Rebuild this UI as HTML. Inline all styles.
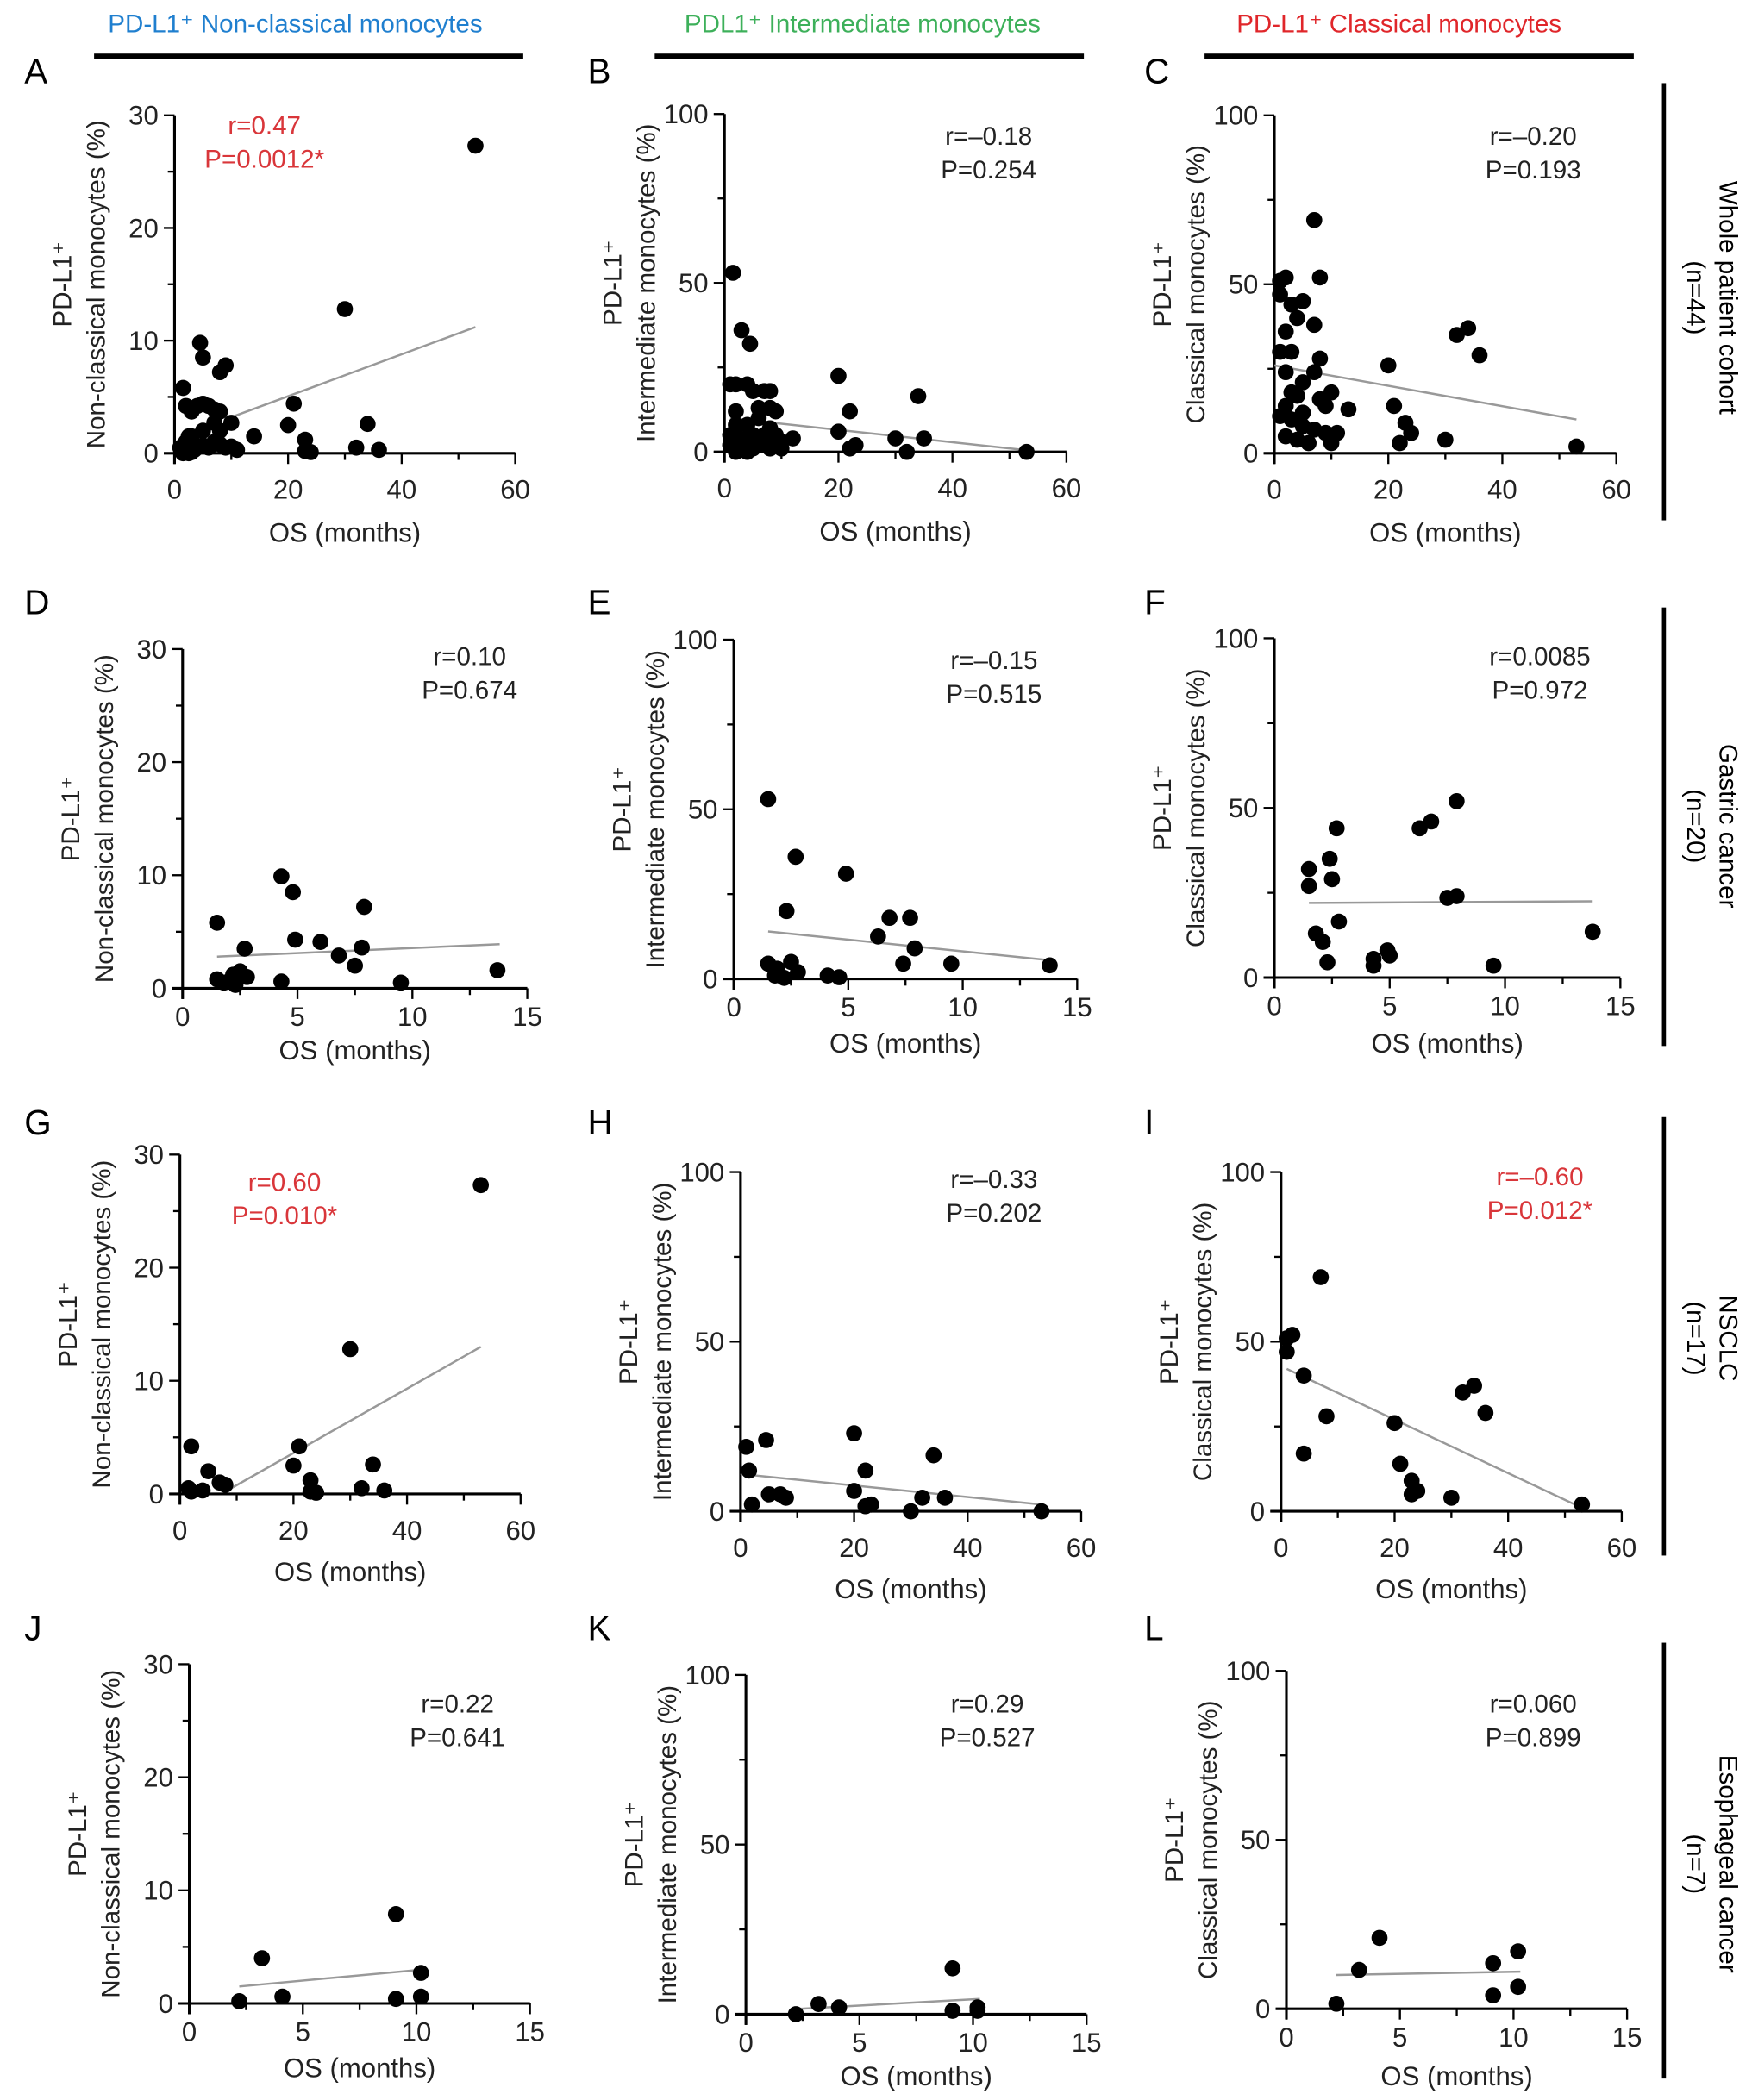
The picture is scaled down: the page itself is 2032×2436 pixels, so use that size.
<!DOCTYPE html>
<html><head><meta charset="utf-8"><style>
html,body{margin:0;padding:0;background:#fff;}
svg{display:block;font-family:"Liberation Sans",Arial,sans-serif;}
</style></head><body>
<svg id="fig" width="2032" height="2436" viewBox="0 0 1306 1566" xmlns="http://www.w3.org/2000/svg">
<g>
<text x="220" y="24" font-size="19" fill="#1f7fcf" text-anchor="middle">PD-L1⁺ Non-classical monocytes</text>
<text x="643" y="24" font-size="19" fill="#3db05a" text-anchor="middle">PDL1⁺ Intermediate monocytes</text>
<text x="1043" y="24" font-size="19" fill="#e0262a" text-anchor="middle">PD-L1⁺ Classical monocytes</text>
<rect x="70" y="40" width="320" height="4" fill="#000"/>
<rect x="488" y="40" width="320" height="4" fill="#000"/>
<rect x="898" y="40" width="320" height="4" fill="#000"/>
</g>
<g>
<rect x="1239" y="62" width="3" height="326" fill="#000"/>
<rect x="1239" y="453" width="3" height="327" fill="#000"/>
<rect x="1239" y="833" width="3" height="327" fill="#000"/>
<rect x="1239" y="1225" width="3" height="325" fill="#000"/>
<g transform="translate(1270,222) rotate(90)"><text font-size="19" text-anchor="middle" x="0" y="-12">Whole patient cohort</text><text font-size="19" text-anchor="middle" x="0" y="12">(n=44)</text></g>
<g transform="translate(1270,616) rotate(90)"><text font-size="19" text-anchor="middle" x="0" y="-12">Gastric cancer</text><text font-size="19" text-anchor="middle" x="0" y="12">(n=20)</text></g>
<g transform="translate(1270,998) rotate(90)"><text font-size="19" text-anchor="middle" x="0" y="-12">NSCLC</text><text font-size="19" text-anchor="middle" x="0" y="12">(n=17)</text></g>
<g transform="translate(1270,1390) rotate(90)"><text font-size="19" text-anchor="middle" x="0" y="-12">Esophageal cancer</text><text font-size="19" text-anchor="middle" x="0" y="12">(n=7)</text></g>
</g>
</svg>
<script>
// Data arrays: [OS months, %] per panel
const dataA = [[53,27.3],[30,12.8],[4.5,9.8],[5,8.5],[9,7.8],[8,7.2],[1.5,5.8],[2,4.2],[3,3.7],[4,4.2],[5,4.4],[6,4.2],[7,3.9],[8,3.7],[10,2.7],[7,2.7],[8,2],[5,2],[2.5,1.5],[3,1.5],[14,1.5],[20,2.5],[21,4.4],[34,2.6],[23,1.2],[23,0.2],[24,0.1],[32,0.5],[36,0.3],[1,0.5],[2,0.2],[3,0.1],[4,0.5],[5,0.7],[7,1],[9,0.5],[10,0.6],[1.5,0],[2.5,0],[6,0.5],[8,0.8],[3.5,0.3],[11,0.3],[2,1]];
const dataB = [[1.5,53],[3,36],[4.5,32],[1,20],[2,20],[4,20],[5,18],[7,18],[8,18],[20,22.5],[22,12],[34,16.5],[2,12],[6,13],[8,13],[9,12],[2,8],[4,8],[6,10],[8,7],[12,4],[20,6],[30,4],[35,4],[53,0],[1,5],[2,5],[3,3],[4,4],[5,5],[7,5],[9,5],[10,3],[1,2],[3,1],[5,1],[6,2],[8,1],[10,1],[22,1],[23,2],[32,0],[2,0],[4,0]];
const dataC = [[7,69],[1,51],[2,52],[1,47],[3,44],[5,45],[8,52],[4,40],[2,36],[7,38],[8,28],[2,24],[7,24],[10,18],[1,30],[3,30],[5,21],[2,14],[4,17],[9,14],[13,13],[20,26],[21,14],[23,9],[24,6],[30,4],[32,35],[34,37],[36,29],[53,2],[1,11],[3,10],[5,8],[7,7],[9,6],[2,5],[4,4],[6,3],[10,3],[3,18],[8,16],[11,6],[22,3],[5,12]];
const dataD = [[1.5,5.8],[1.5,0.8],[1.8,0.5],[2,0.6],[2.2,1.2],[2.5,1.5],[2.7,3.5],[2.8,1],[2.3,0.3],[4.3,9.9],[4.8,8.5],[4.9,4.3],[4.3,0.6],[6,4.1],[6.8,2.9],[7.5,2],[7.8,3.6],[7.9,7.2],[9.5,0.5],[13.7,1.6]];
const dataE = [[1.5,53],[2.7,36],[4.9,31],[2.3,20],[7.7,18],[6.8,18],[6.3,12.5],[7.9,9],[9.5,4.5],[13.8,4],[1.5,4.5],[1.8,1],[2.2,0.3],[2.5,5],[2.8,2],[4.1,1],[4.6,0.5],[2,1],[7.4,4.5],[1.9,3]];
const dataF = [[1.5,32],[1.5,27],[2.4,35],[2.5,29],[2.7,44],[2.8,16.5],[1.8,13],[2.1,10.5],[2.3,4.5],[4.3,5.5],[4.3,3.5],[4.9,8],[5,6.5],[6.3,44],[6.8,46],[7.9,52],[7.5,23.5],[7.9,24],[9.5,3.5],[13.8,13.5]];
const dataG = [[53,27.3],[30,12.8],[2,4.2],[21,4.2],[34,2.6],[20,2.5],[5,2],[7,1],[8,0.8],[23,1.2],[23,0.2],[24,0.1],[32,0.5],[36,0.3],[2,0.2],[1.5,0.5],[4,0.3]];
const dataH = [[1,19],[4.5,21],[1.5,12],[2,2],[5,5],[7,5],[8,4],[20,23],[22,12],[34,16.5],[20,6],[22,1.5],[23,2],[30,0],[32,4],[36,4],[53,0]];
const dataI = [[7,69],[1,51],[2,52],[1,47],[4,40],[8,28],[4,17],[20,26],[21,14],[23,9],[24,6],[23,5],[30,4],[32,35],[34,37],[36,29],[53,2]];
const dataJ = [[2.2,0.2],[3.2,4],[4.1,0.6],[9.1,7.9],[9.1,0.4],[10.2,2.7],[10.2,0.6]];
const dataK = [[2.2,0],[3.2,3],[4.1,2],[9.1,13.5],[9.1,1],[10.2,2],[10.2,1]];
const dataL = [[2.2,1.5],[3.2,11.5],[4.1,21],[9.1,13.5],[9.1,4],[10.2,17],[10.2,6.5]];
// regression line endpoints [x1,y1,x2,y2]
const fitA=[10,3.2,53,11.2], fitB=[1,10,53,0.5], fitC=[0,26,53,10], fitD=[1.5,2.8,13.8,3.9], fitE=[1.5,14,13.8,5.5], fitF=[1.5,22,13.8,22.5];
const fitG=[8,0.2,53,13], fitH=[0,11,53,2], fitI=[1,42,53,1], fitJ=[2.2,1.5,10.3,3], fitK=[2.2,1.5,10.3,4.5], fitL=[2.2,10,10.3,11];
const statsR=["r=0.47","r=–0.18","r=–0.20","r=0.10","r=–0.15","r=0.0085","r=0.60","r=–0.33","r=–0.60","r=0.22","r=0.29","r=0.060"];
const statsP=["P=0.0012*","P=0.254","P=0.193","P=0.674","P=0.515","P=0.972","P=0.010*","P=0.202","P=0.012*","P=0.641","P=0.527","P=0.899"];
const ticksY30=[0,10,20,30], ticksY100=[0,50,100], ticksX60=[0,20,40,60], ticksX15=[0,5,10,15];

const NS="http://www.w3.org/2000/svg";
const svg=document.getElementById('fig');
function mk(tag,attrs,parent){const e=document.createElementNS(NS,tag);for(const k in attrs)e.setAttribute(k,attrs[k]);(parent||svg).appendChild(e);return e;}

const panels=[
 {id:'A',d:dataA,f:fitA,ax:130,y0:338,yt:86,xr:384,ym:30,xm:60,lx:18,ly:62,sx:197,sy:100,to:66,yl:'Non-classical monocytes (%)',red:true},
 {id:'B',d:dataB,f:fitB,ax:540,y0:337,yt:85,xr:795,ym:100,xm:60,lx:438,ly:62,sx:737,sy:108,to:66,yl:'Intermediate monocytes (%)'},
 {id:'C',d:dataC,f:fitC,ax:950,y0:338,yt:86,xr:1205,ym:100,xm:60,lx:853,ly:62,sx:1143,sy:108,to:66,yl:'Classical monocytes (%)'},
 {id:'D',d:dataD,f:fitD,ax:136,y0:737,yt:484,xr:393,ym:30,xm:15,lx:18,ly:458,sx:350,sy:496,to:53,yl:'Non-classical monocytes (%)'},
 {id:'E',d:dataE,f:fitE,ax:547,y0:730,yt:477,xr:803,ym:100,xm:15,lx:438,ly:458,sx:741,sy:499,to:55,yl:'Intermediate monocytes (%)'},
 {id:'F',d:dataF,f:fitF,ax:950,y0:729,yt:476,xr:1208,ym:100,xm:15,lx:853,ly:458,sx:1148,sy:496,to:56,yl:'Classical monocytes (%)'},
 {id:'G',d:dataG,f:fitG,ax:134,y0:1114,yt:861,xr:388,ym:30,xm:60,lx:18,ly:846,sx:212,sy:888,to:65,yl:'Non-classical monocytes (%)',red:true},
 {id:'H',d:dataH,f:fitH,ax:552,y0:1127,yt:874,xr:806,ym:100,xm:60,lx:438,ly:846,sx:741,sy:886,to:65,yl:'Intermediate monocytes (%)'},
 {id:'I',d:dataI,f:fitI,ax:955,y0:1127,yt:874,xr:1209,ym:100,xm:60,lx:853,ly:846,sx:1148,sy:884,to:65,yl:'Classical monocytes (%)',red:true},
 {id:'J',d:dataJ,f:fitJ,ax:141,y0:1494,yt:1241,xr:395,ym:30,xm:15,lx:18,ly:1223,sx:341,sy:1277,to:55,yl:'Non-classical monocytes (%)'},
 {id:'K',d:dataK,f:fitK,ax:556,y0:1502,yt:1249,xr:810,ym:100,xm:15,lx:438,ly:1223,sx:736,sy:1277,to:53,yl:'Intermediate monocytes (%)'},
 {id:'L',d:dataL,f:fitL,ax:959,y0:1498,yt:1246,xr:1213,ym:100,xm:15,lx:853,ly:1223,sx:1143,sy:1277,to:57,yl:'Classical monocytes (%)'}
];
panels.forEach((p,i)=>{
 const g=mk('g',{});
 
 
 const X=v=>p.ax+(v/p.xm)*(p.xr-p.ax);
 const Y=v=>p.y0-(v/p.ym)*(p.y0-p.yt);
 const yT=p.ym===30?ticksY30:ticksY100, xT=p.xm===60?ticksX60:ticksX15;
 const L=mk('text',{x:p.lx,y:p.ly,'font-size':26},g);L.textContent=p.id;
 
 
 const ya=mk('line',{x1:p.ax,y1:p.yt,x2:p.ax,y2:p.y0+8,stroke:'#000','stroke-width':2},g);
 
 
 const xa=mk('line',{x1:p.ax-8,y1:p.y0,x2:p.xr,y2:p.y0,stroke:'#000','stroke-width':2},g);
 
 
 const ystep=yT[1]-yT[0], xstep=xT[1]-xT[0];
 for(let v=0;v<=p.ym+1e-9;v+=ystep/2){const maj=Math.abs(v/ystep-Math.round(v/ystep))<1e-6;
  mk('line',{x1:p.ax-(maj?8:5),y1:Y(v),x2:p.ax,y2:Y(v),stroke:'#000','stroke-width':1.5},g);}
 for(let v=0;v<=p.xm+1e-9;v+=xstep/2){const maj=Math.abs(v/xstep-Math.round(v/xstep))<1e-6;
  mk('line',{x1:X(v),y1:p.y0,x2:X(v),y2:p.y0+(maj?8:5),stroke:'#000','stroke-width':1.5},g);}
 yT.forEach(v=>{const t=mk('text',{x:p.ax-12,y:Y(v)+7,'font-size':20,'text-anchor':'end',fill:'#222'},g);t.textContent=v;
  
  });
 xT.forEach(v=>{const t=mk('text',{x:X(v),y:p.y0+(p.to>60?34:28),'font-size':20,'text-anchor':'middle',fill:'#222'},g);t.textContent=v;
  
  });
 const xt=mk('text',{x:(p.ax+p.xr)/2,y:p.y0+p.to,'font-size':20,'text-anchor':'middle',fill:'#222'},g);xt.textContent='OS (months)';
 
 
 const cy=(p.y0+p.yt)/2;
 const yg=mk('g',{transform:`translate(${p.ax},${cy}) rotate(-90)`},g);
 const y1=mk('text',{x:0,y:-77,'font-size':19,'text-anchor':'middle',fill:'#222'},yg);y1.textContent='PD-L1⁺';
 
 
 const y2=mk('text',{x:0,y:-52,'font-size':19,'text-anchor':'middle',fill:'#222'},yg);y2.textContent=p.yl;
 
 
 const fl=mk('line',{x1:X(p.f[0]),y1:Y(p.f[1]),x2:X(p.f[2]),y2:Y(p.f[3]),stroke:'#999','stroke-width':1.6},g);
 
 
 p.d.forEach(pt=>{const c=mk('circle',{cx:X(pt[0]),cy:Y(pt[1]),r:6,fill:'#000'},g);
  
  });
 const col=p.red?'#d9363a':'#222';
 const r=mk('text',{x:p.sx,y:p.sy,'font-size':19,'text-anchor':'middle',fill:col},g);r.textContent=statsR[i];
 
 
 const pp=mk('text',{x:p.sx,y:p.sy+25,'font-size':19,'text-anchor':'middle',fill:col},g);pp.textContent=statsP[i];
 
 
});
</script>
</body></html>
